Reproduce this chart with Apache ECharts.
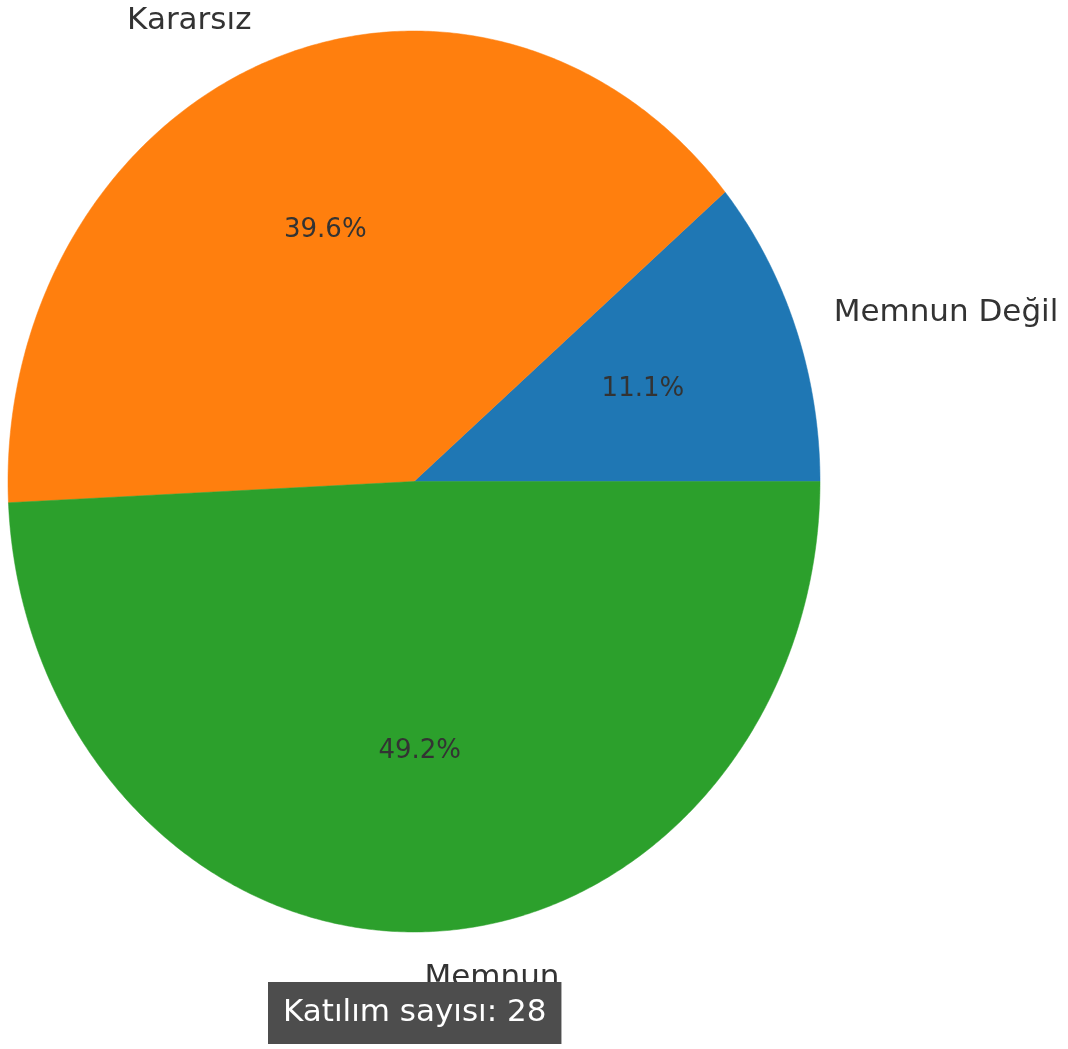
<!DOCTYPE html>
<html>
<head>
<meta charset="utf-8">
<script src="https://cdn.jsdelivr.net/npm/echarts@6/dist/echarts.min.js"></script>
<style>html,body{margin:0;padding:0;background:#fff}#main{width:1068px;height:1049px}</style>
</head>
<body>
<div id="main"></div>
<script>
// pie data (matplotlib-style, counterclockwise from 3 o'clock)
const categories = ["Memnun Değil", "Kararsız", "Memnun"]
const values = [11.1, 39.6, 49.2]
const colors = ["#1f77b4", "#ff7f0e", "#2ca02c"]
const participantCount = 28

const total = values.reduce((a, b) => a + b, 0)
const starts = []
let acc = 0
values.forEach(v => { starts.push(acc / total * 360); acc += v })

const chart = echarts.init(document.getElementById("main"))
chart.setOption({
  animation: false,
  title: {
    text: "Katılım sayısı: " + participantCount,
    left: 268, top: 982,
    backgroundColor: "#4d4d4d",
    padding: [12, 15, 12, 15],
    textStyle: { color: "#ffffff", fontSize: 31, fontWeight: "normal", fontFamily: "DejaVu Sans", lineHeight: 38 }
  },
  grid: { left: 8, top: 31, width: 812, height: 901 },
  xAxis: { type: "value", min: -1, max: 1, show: false },
  yAxis: { type: "value", min: -1, max: 1, show: false },
  series: [{
    type: "custom",
    coordinateSystem: "cartesian2d",
    data: values.map((v, i) => [i, v]),
    renderItem: function (params, api) {
      const i = api.value(0)
      const v = api.value(1)
      const a0 = starts[i]
      const sweep = v / total * 360
      const pts = [api.coord([0, 0])]
      const n = Math.max(2, Math.ceil(sweep * 2))
      for (let k = 0; k <= n; k++) {
        const t = (a0 + sweep * k / n) * Math.PI / 180
        pts.push(api.coord([Math.cos(t), Math.sin(t)]))
      }
      const mid = (a0 + sweep / 2) * Math.PI / 180
      const lp = api.coord([1.1 * Math.cos(mid), 1.1 * Math.sin(mid)])
      const pp = api.coord([0.6 * Math.cos(mid), 0.6 * Math.sin(mid)])
      return {
        type: "group",
        children: [
          { type: "polygon", shape: { points: pts }, style: { fill: colors[i], stroke: colors[i], lineWidth: 0.5 } },
          { type: "text", z2: 10, style: { x: lp[0], y: lp[1] + 1, text: categories[i], fill: "#333333", fontSize: 31, fontFamily: "DejaVu Sans",
            align: Math.cos(mid) > 0 ? "left" : "right", verticalAlign: "middle" } },
          { type: "text", z2: 10, style: { x: pp[0], y: pp[1], text: (v / total * 100).toFixed(1) + "%", fill: "#333333", fontSize: 26, fontFamily: "DejaVu Sans",
            align: "center", verticalAlign: "middle" } }
        ]
      }
    }
  }]
})
</script>
</body>
</html>
